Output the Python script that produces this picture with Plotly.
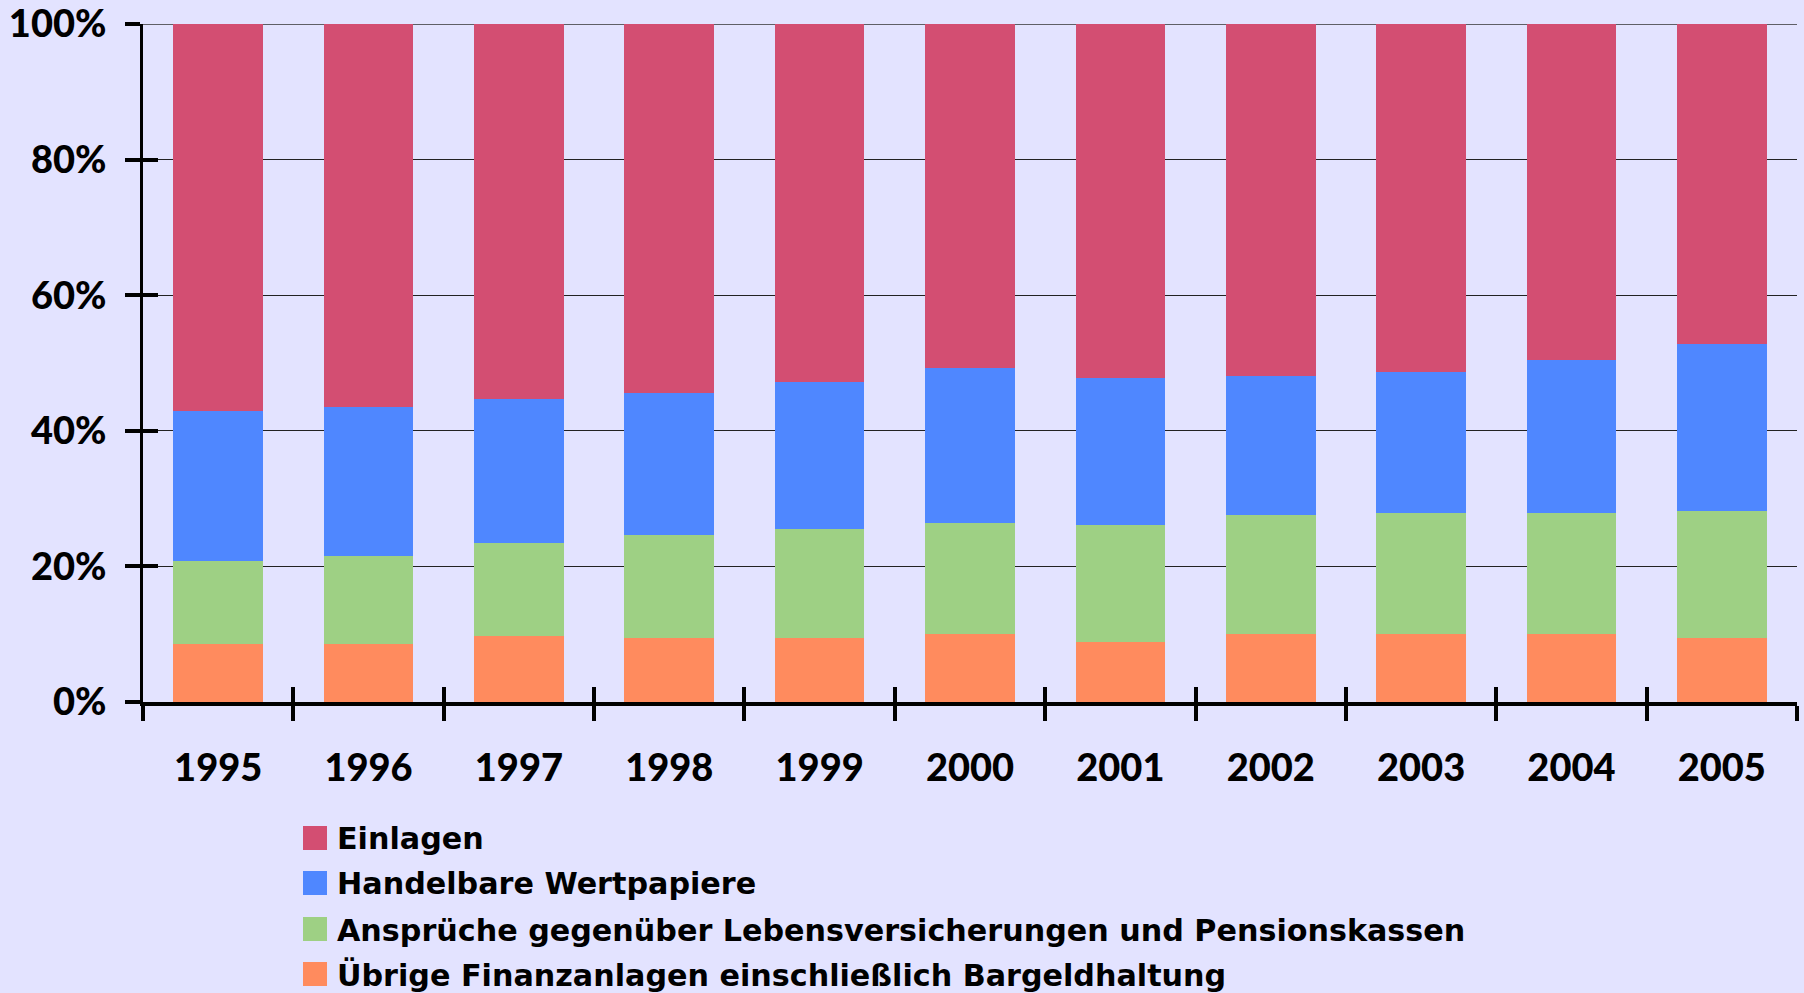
import plotly.graph_objects as go

years = ["1995", "1996", "1997", "1998", "1999", "2000", "2001", "2002", "2003", "2004", "2005"]

# shares in % (bottom to top)
uebrige = [8.5, 8.5, 9.7, 9.4, 9.4, 10.0, 8.8, 10.0, 10.0, 10.0, 9.4]
ansprueche = [12.3, 13.1, 13.8, 15.2, 16.1, 16.4, 17.3, 17.6, 17.9, 17.9, 18.8]
handelbare = [22.1, 21.9, 21.2, 21.0, 21.7, 22.9, 21.7, 20.5, 20.8, 22.6, 24.6]
einlagen = [57.1, 56.5, 55.3, 54.4, 52.8, 50.7, 52.2, 51.9, 51.3, 49.5, 47.2]

names = ["Einlagen", "Handelbare Wertpapiere",
         "Ansprüche gegenüber Lebensversicherungen und Pensionskassen",
         "Übrige Finanzanlagen einschließlich Bargeldhaltung"]
colors = ["#D34E72", "#4F87FF", "#9ED084", "#FF8B5E"]
series = [einlagen, handelbare, ansprueche, uebrige]

y_ticks = [0, 20, 40, 60, 80, 100]
y_labels = ["0%", "20%", "40%", "60%", "80%", "100%"]

BG = "#E3E3FF"
FONT = "Lato"
LEG_FONT = "DejaVu Sans"
W, H = 1804, 993
ML, MR, MT, MB = 143, 7, 24, 291
PW, PH = W - ML - MR, H - MT - MB

fig = go.Figure()
for name, col, vals in reversed(list(zip(names, colors, series))):
    fig.add_trace(go.Bar(x=years, y=vals, name=name, marker=dict(color=col, line=dict(width=0)),
                         showlegend=False))

# invisible trace to activate overlay axes (for ticks crossing the axis lines)
fig.add_trace(go.Bar(x=years, y=[0] * len(years), xaxis="x2", yaxis="y2",
                     showlegend=False, hoverinfo="skip", marker=dict(color="rgba(0,0,0,0)")))

tickfont = dict(size=38, family=FONT, weight=900, color="black")

fig.update_layout(
    width=W, height=H, autosize=False,
    paper_bgcolor=BG, plot_bgcolor=BG,
    margin=dict(l=ML, r=MR, t=MT, b=MB, pad=0, autoexpand=False),
    barmode="stack", bargap=0.404,
    showlegend=False,
    font=dict(family=FONT, color="black"),
    xaxis=dict(type="category", tickson="boundaries", ticks="outside", ticklen=15, tickwidth=4,
               tickcolor="black", showline=True, linecolor="black", linewidth=4,
               showgrid=False, tickfont=tickfont, ticklabelstandoff=29, automargin=False),
    yaxis=dict(range=[0, 100], tickvals=y_ticks, ticktext=y_labels, ticks="outside", ticklen=15,
               tickwidth=4, tickcolor="black", showline=True, linecolor="black", linewidth=3,
               showgrid=True, gridcolor="#222", gridwidth=1, zeroline=False,
               tickfont=tickfont, ticklabelstandoff=11, ticklabeloverflow="allow",
               automargin=False),
    xaxis2=dict(type="category", overlaying="x", matches="x", tickson="boundaries", ticks="inside",
                ticklen=15, tickwidth=4, tickcolor="black", showticklabels=False,
                showline=False, showgrid=False, side="bottom", automargin=False),
    yaxis2=dict(overlaying="y", range=[0, 100], tickvals=y_ticks, ticks="inside", ticklen=15,
                tickwidth=4, tickcolor="black", showticklabels=False, showline=False,
                showgrid=False, zeroline=False, side="left", automargin=False),
)

# top gridline (plotly omits the grid line at the range edge)
fig.add_shape(type="line", xref="paper", yref="y", x0=0, x1=1, y0=y_ticks[-1], y1=y_ticks[-1],
              line=dict(color="#333", width=1.5), layer="below")

# manual legend
def px_x(p):
    return (p - ML) / PW

def px_y(p):
    return (H - MB - p) / PH

row_centers = [838, 883, 929, 974]
for name, col, cy in zip(names, colors, row_centers):
    fig.add_shape(type="rect", xref="paper", yref="paper",
                  x0=px_x(303), x1=px_x(327), y0=px_y(cy + 12), y1=px_y(cy - 12),
                  fillcolor=col, line=dict(width=0))
    fig.add_annotation(xref="paper", yref="paper", x=px_x(335), y=px_y(cy + 1),
                       text=name, showarrow=False, xanchor="left", yanchor="middle",
                       font=dict(size=30.2, family=LEG_FONT, weight="bold", color="black"))

fig.write_html("out.html", config={"displayModeBar": False},
               post_script="document.body.style.margin='0';")
